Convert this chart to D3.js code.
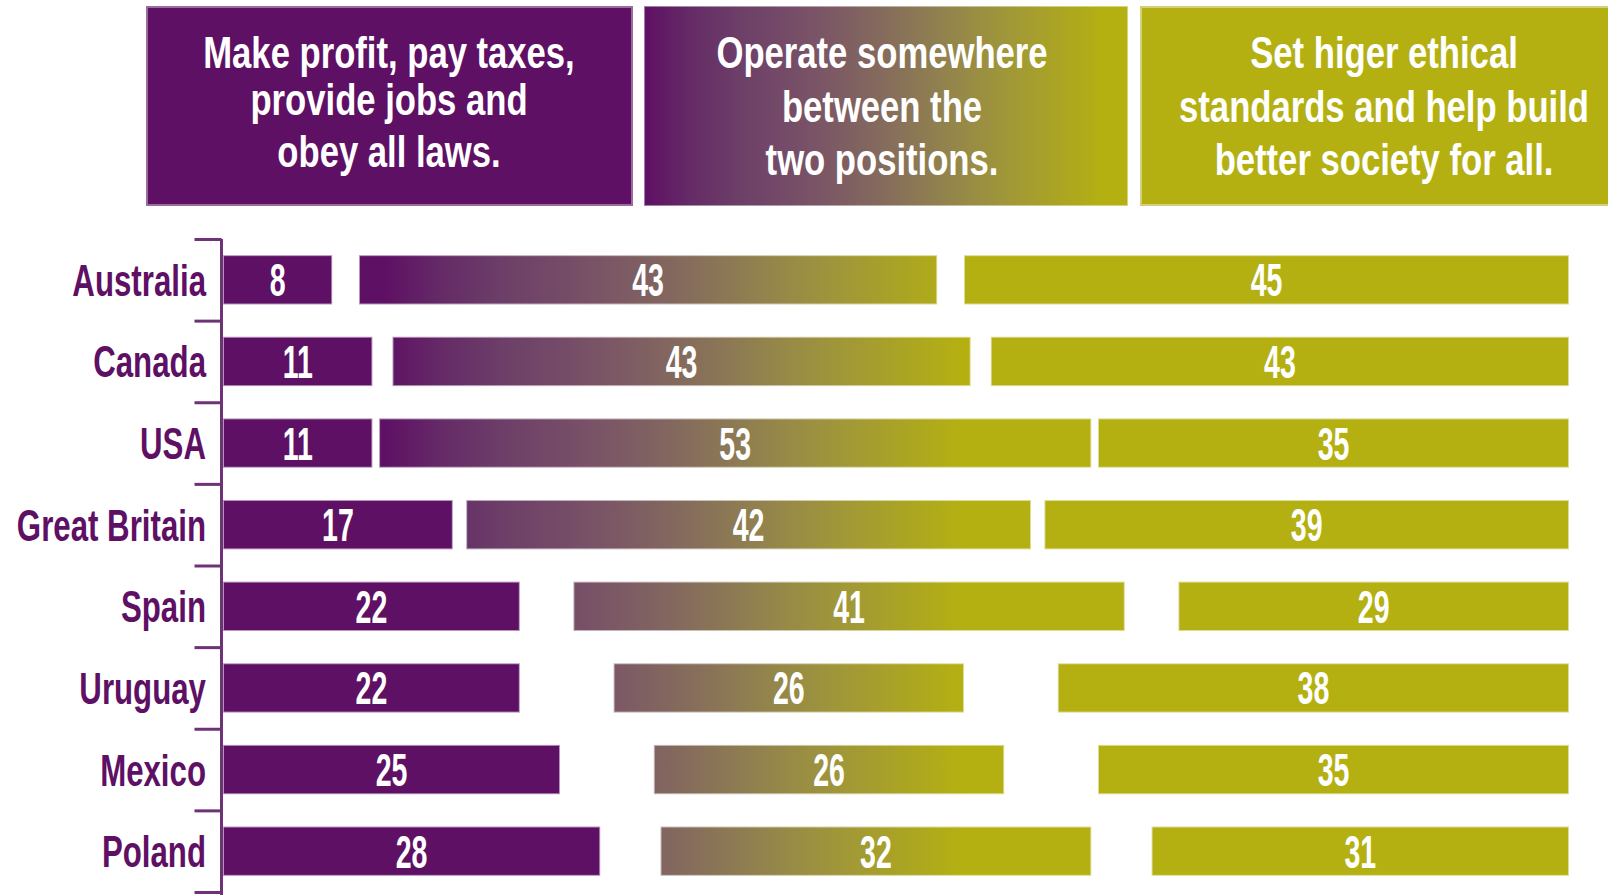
<!DOCTYPE html>
<html>
<head>
<meta charset="utf-8">
<script src="https://cdn.jsdelivr.net/npm/d3@7"></script>
<style>
  html, body { margin: 0; padding: 0; background: #fff; }
  svg { display: block; }
  text { font-family: "Liberation Sans", Arial, sans-serif; }
</style>
</head>
<body>
<svg id="chart" width="1608" height="895"></svg>
<script>
// ---- data ----
const countries = ["Australia", "Canada", "USA", "Great Britain", "Spain", "Uruguay", "Mexico", "Poland"];
const profit  = [8, 11, 11, 17, 22, 22, 25, 28];
const between = [43, 43, 53, 42, 41, 26, 26, 32];
const ethical = [45, 43, 35, 39, 29, 38, 35, 31];
const headers = [
  ["Make profit, pay taxes,", "provide jobs and", "obey all laws."],
  ["Operate somewhere", "between the", "two positions."],
  ["Set higer ethical", "standards and help build", "better society for all."]
];

// ---- style ----
const W = 1608, H = 895;
const PURPLE = "#5e1064", OLIVE = "#b4b012";
const ramp = d3.scaleLinear()
  .domain([0, 0.15, 0.35, 0.55, 0.75, 1])
  .range(["#5e1064", "#683868", "#785068", "#86705a", "#9c9240", "#b4b012"]);

const svg = d3.select("#chart");
const defs = svg.append("defs");

const x = d3.scaleLinear().domain([0, 100]).range([224, 1564]);
const y = d3.scaleBand().domain(countries).range([239, 892]).paddingInner(0.42).paddingOuter(0.21);
const GAP = 2;

// middle-bar gradient in user space
const gMid = defs.append("linearGradient").attr("id", "gMid")
  .attr("gradientUnits", "userSpaceOnUse")
  .attr("x1", x(12)).attr("x2", x(55)).attr("y1", 0).attr("y2", 0);
d3.range(0, 1.0001, 0.1).forEach(t => gMid.append("stop").attr("offset", t).attr("stop-color", ramp(t)));

// header gradient
const gHead = defs.append("linearGradient").attr("id", "gHead")
  .attr("x1", 0).attr("x2", 0.95).attr("y1", 0).attr("y2", 0);
d3.range(0, 1.0001, 0.1).forEach(t => gHead.append("stop").attr("offset", t).attr("stop-color", ramp(t)));

// ---- header boxes ----
const boxes = [
  { x0: 147, x1: 632, fill: PURPLE, stroke: "#9a6aa0", cx: 389, base: [68, 115, 167] },
  { x0: 645, x1: 1127, fill: "url(#gHead)", stroke: "url(#gHead)", cx: 882, base: [68, 122, 175] },
  { x0: 1141, x1: 1620, fill: OLIVE, stroke: "#d2d07c", cx: 1384, base: [68, 122, 175] }
];
headers.forEach((lines, i) => {
  const b = boxes[i];
  const g = svg.append("g");
  g.append("rect").attr("x", b.x0).attr("y", 7).attr("width", b.x1 - b.x0).attr("height", 198)
    .attr("fill", b.fill).attr("stroke", b.stroke).attr("stroke-width", 2).attr("stroke-opacity", i === 1 ? 0.55 : 1);
  lines.forEach((ln, j) => {
    g.append("text")
      .attr("transform", `translate(${b.cx},${b.base[j]}) scale(0.77,1)`)
      .attr("text-anchor", "middle")
      .attr("fill", "#fff").attr("font-weight", "bold").attr("font-size", 45)
      .text(ln);
  });
});

// ---- axis ----
const yb = d3.scaleLinear().domain([0, countries.length]).range(y.range());
const axis = d3.axisLeft(yb).tickValues(d3.range(0, countries.length + 1)).tickFormat("").tickSize(27).tickSizeOuter(0);
const axG = svg.append("g").attr("transform", "translate(221.5,0)").call(axis);
axG.select(".domain").attr("stroke", "#6e3276").attr("stroke-width", 3)
  .attr("d", `M0,${y.range()[0]}V${H}`);
axG.selectAll(".tick line").attr("stroke", "#6e3276").attr("stroke-width", 3);

// country labels
svg.append("g").selectAll("text").data(countries).join("text")
  .attr("transform", d => `translate(206,${y(d) + y.bandwidth() / 2 + 16}) scale(0.71,1)`)
  .attr("text-anchor", "end")
  .attr("fill", PURPLE).attr("font-weight", "bold").attr("font-size", 44)
  .text(d => d);

// ---- bars ----
const rows = countries.map((c, i) => {
  const m = 100 - profit[i] - between[i] - ethical[i];
  const s2 = profit[i] + m / 2;
  const s3 = s2 + between[i] + m / 2;
  return [
    { c, v: profit[i], x0: x(0), x1: x(profit[i]), fill: PURPLE },
    { c, v: between[i], x0: x(s2) + GAP, x1: x(s2 + between[i]) + GAP, fill: "url(#gMid)" },
    { c, v: ethical[i], x0: x(s3) + 2 * GAP, x1: x(100) + 2 * GAP, fill: OLIVE }
  ];
}).flat();

const bars = svg.append("g");
bars.selectAll("rect").data(rows).join("rect")
  .attr("x", d => d.x0).attr("y", d => y(d.c))
  .attr("width", d => d.x1 - d.x0).attr("height", y.bandwidth())
  .attr("fill", d => d.fill)
  .attr("stroke", d => d.fill).attr("stroke-width", 2).attr("stroke-opacity", 0.45);

bars.selectAll("text").data(rows).join("text")
  .attr("transform", d => `translate(${(d.x0 + d.x1) / 2},${y(d.c) + y.bandwidth() / 2 + 16.5}) scale(0.62,1)`)
  .attr("text-anchor", "middle")
  .attr("fill", "#fff").attr("font-weight", "bold").attr("font-size", 46)
  .text(d => d.v);
</script>
</body>
</html>
